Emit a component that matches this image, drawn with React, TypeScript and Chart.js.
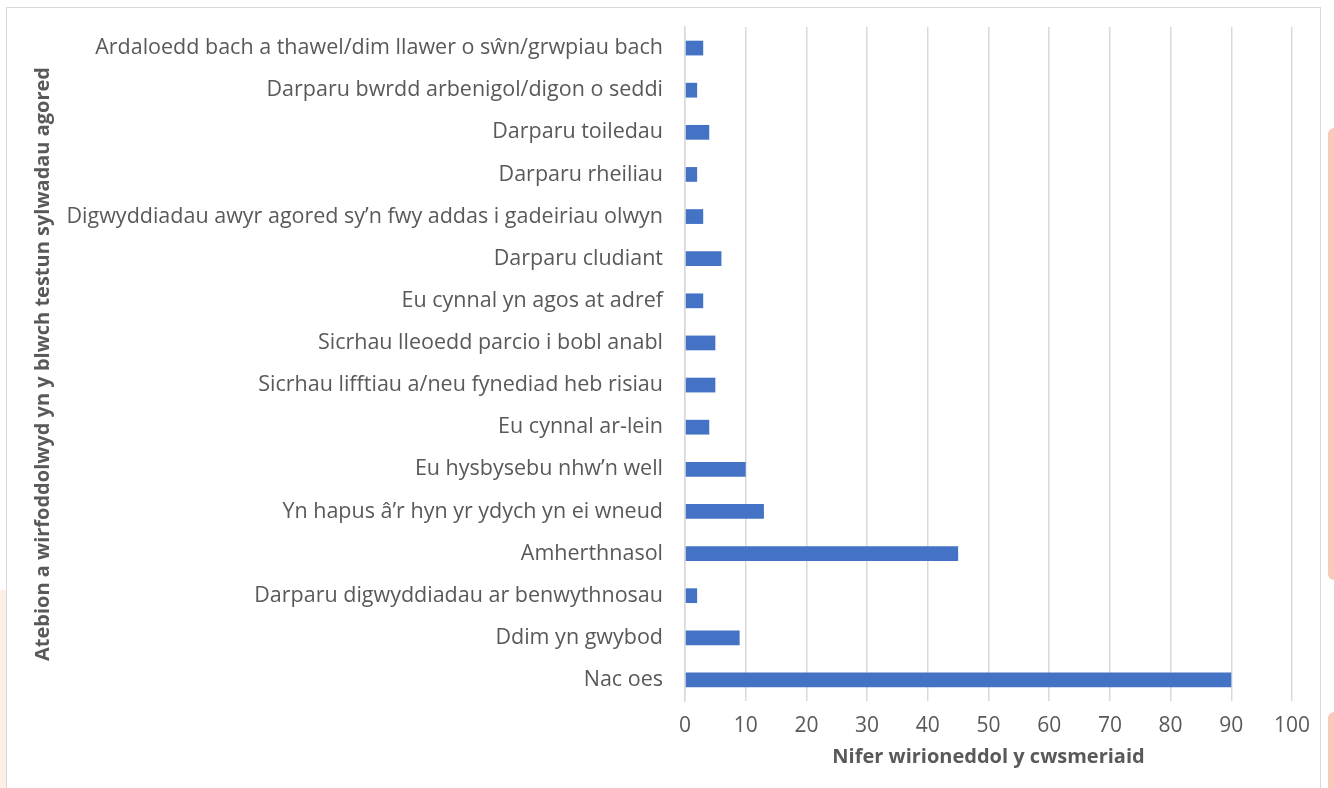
import React, { useEffect, useRef } from "react";
import { Chart, registerables } from "chart.js";

Chart.register(...registerables);

const categories: string[] = [
  "Ardaloedd bach a thawel/dim llawer o sŵn/grwpiau bach",
  "Darparu bwrdd arbenigol/digon o seddi",
  "Darparu toiledau",
  "Darparu rheiliau",
  "Digwyddiadau awyr agored sy’n fwy addas i gadeiriau olwyn",
  "Darparu cludiant",
  "Eu cynnal yn agos at adref",
  "Sicrhau lleoedd parcio i bobl anabl",
  "Sicrhau lifftiau a/neu fynediad heb risiau",
  "Eu cynnal ar-lein",
  "Eu hysbysebu nhw’n well",
  "Yn hapus â’r hyn yr ydych yn ei wneud",
  "Amherthnasol",
  "Darparu digwyddiadau ar benwythnosau",
  "Ddim yn gwybod",
  "Nac oes",
];

const counts: number[] = [3, 2, 4, 2, 3, 6, 3, 5, 5, 4, 10, 13, 45, 2, 9, 90];

const xAxisTitle = "Nifer wirioneddol y cwsmeriaid";
const yAxisTitle = "Atebion a wirfoddolwyd yn y blwch testun sylwadau agored";

const FONT = "'Open Sans', 'Noto Sans', sans-serif";
const TEXT = "#595959";

export default function App() {
  const ref = useRef<HTMLCanvasElement | null>(null);

  useEffect(() => {
    if (!ref.current) return;
    const chart = new Chart(ref.current, {
      type: "bar",
      data: {
        labels: categories,
        datasets: [
          {
            data: counts,
            backgroundColor: "#4472c4",
            borderWidth: 0,
            categoryPercentage: 1,
            barPercentage: 0.35,
          },
        ],
      },
      options: {
        indexAxis: "y",
        animation: false,
        responsive: false,
        maintainAspectRatio: false,
        layout: { padding: { top: 19, right: 28, left: 0, bottom: 0 } },
        plugins: {
          legend: { display: false },
          tooltip: { enabled: false },
        },
        scales: {
          x: {
            min: 0,
            max: 100,
            ticks: {
              stepSize: 10,
              color: TEXT,
              font: { family: FONT, size: 21 },
              padding: 12,
            },
            grid: {
              color: "#d9d9d9",
              lineWidth: 1.5,
              drawTicks: false,
            },
            border: { display: false },
            title: {
              display: true,
              text: xAxisTitle,
              color: TEXT,
              font: { family: FONT, size: 20, weight: "bold" },
              padding: { top: 0, bottom: 19 },
            },
            afterFit: (scale: any) => {
              scale.height = 87;
              scale.paddingLeft = 0;
              scale.paddingRight = 0;
            },
          },
          y: {
            ticks: {
              color: TEXT,
              font: { family: FONT, size: 21.5 },
              padding: 22,
            },
            grid: { display: false, drawTicks: false },
            border: { display: true, color: "#d9d9d9", width: 1.5 },
            title: {
              display: true,
              text: yAxisTitle,
              color: TEXT,
              font: { family: FONT, size: 20, weight: "bold" },
              padding: { top: 24, bottom: 0 },
            },
            afterFit: (scale: any) => {
              scale.width = 678;
              scale.paddingTop = 0;
              scale.paddingBottom = 0;
            },
          },
        },
      },
    });
    return () => chart.destroy();
  }, []);

  return (
    <div
      style={{
        position: "fixed",
        left: 0,
        top: 0,
        width: 1334,
        height: 788,
        overflow: "hidden",
        background: "#ffffff",
      }}
    >
      <div
        style={{
          position: "absolute",
          right: 0,
          top: 128,
          width: 6,
          height: 452,
          background: "#f9cab7",
          borderTopLeftRadius: 6,
          borderBottomLeftRadius: 6,
        }}
      />
      <div
        style={{
          position: "absolute",
          right: 0,
          top: 712,
          width: 6,
          height: 80,
          background: "#f9cab7",
          borderTopLeftRadius: 6,
        }}
      />
      <div
        style={{
          position: "absolute",
          left: 0,
          top: 590,
          width: 6,
          height: 200,
          background: "#fdeee6",
        }}
      />
      <div
        style={{
          position: "absolute",
          left: 6,
          top: 7,
          width: 1313,
          height: 800,
          border: "1px solid #d9d9d9",
          background: "#ffffff",
        }}
      >
        <canvas ref={ref} width={1313} height={780} style={{ display: "block" }} />
      </div>
    </div>
  );
}
